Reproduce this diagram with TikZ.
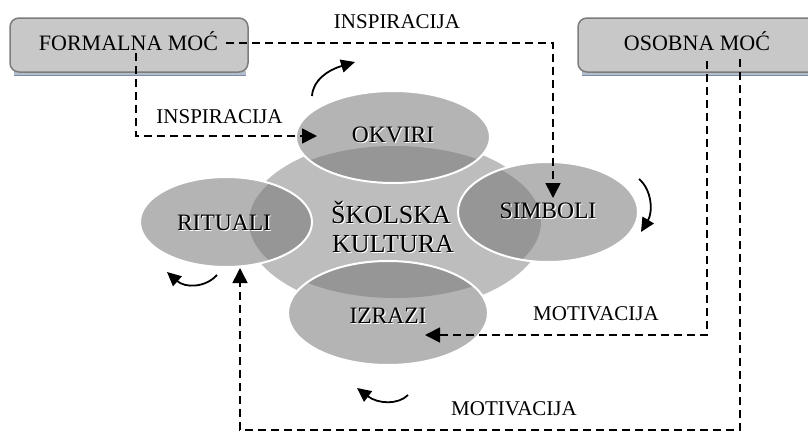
\documentclass[tikz,border=0pt]{standalone}
\usepackage{fontspec}
\setmainfont{Liberation Serif}
\usetikzlibrary{arrows.meta}
\definecolor{lightg}{HTML}{B4B4B4}
\definecolor{centg}{HTML}{BDBDBD}
\definecolor{darkg}{HTML}{969696}
\definecolor{boxg}{HTML}{C8C8C8}
\definecolor{boxline}{HTML}{7C7C7C}
\definecolor{stripc}{HTML}{B3BDCC}
\definecolor{stripline}{HTML}{7A8CA8}
\newcommand\emblabel[4]{%
  \node[#2, text=white, xshift=1.2pt, yshift=-1.2pt] (#1s) at #3 {#4};
  \node[#2] (#1) at #3 {#4};}
\begin{document}
\begin{tikzpicture}[x=1pt,y=-1pt,
  dsh/.style={line width=1.7pt, dash pattern=on 8pt off 5pt},
  tipd/.style={-{Triangle[length=15pt,width=15pt]}},
  curv/.style={line width=1.8pt,-{Triangle[length=14pt,width=13pt]}},
  plainlab/.style={font=\fontsize{21}{24}\selectfont, inner sep=0pt, anchor=base},
  boxlab/.style={font=\fontsize{22}{25}\selectfont, inner sep=0pt, anchor=base},
  outlab/.style={font=\fontsize{23.5}{26}\selectfont, inner sep=0pt, anchor=base},
  cenlab/.style={font=\fontsize{26}{29}\selectfont, inner sep=0pt, anchor=base},
  powerbox/.style={draw=boxline, fill=boxg, line width=1.5pt, rounded corners=9pt,
    minimum height=54pt, inner sep=0pt},
  ring/.style={draw=white, line width=2pt},
]
\useasboundingbox (0,0) rectangle (808,434);
\clip (0,0) rectangle (808,434);
\fill[white] (0,0) rectangle (808,434);

% central shape
\fill[centg] (395,225) ellipse [x radius=150pt, y radius=86pt];

% outer ellipses with darker overlap
\foreach \cx/\cy/\rx/\ry in {393/137/97/46, 548/212/90/50, 226/222/86/45, 388/313/100/52}{
  \fill[lightg] (\cx,\cy) ellipse [x radius=\rx pt, y radius=\ry pt];
  \begin{scope}
    \clip (\cx,\cy) ellipse [x radius=\rx pt, y radius=\ry pt];
    \fill[darkg] (395,222) ellipse [x radius=146pt, y radius=76pt];
  \end{scope}
  \draw[ring] (\cx,\cy) ellipse [x radius=\rx pt, y radius=\ry pt];
}

% labels in the diagram
\emblabel{okv}{outlab}{(393,142)}{OKVIRI}
\emblabel{sim}{outlab}{(548,218)}{SIMBOLI}
\emblabel{rit}{outlab}{(224,230)}{RITUALI}
\emblabel{izr}{outlab}{(388,323)}{IZRAZI}
\emblabel{sk}{cenlab}{(391,223)}{ŠKOLSKA}
\emblabel{ku}{cenlab}{(393,252)}{KULTURA}

% power boxes
\fill[stripc] (14,71) rectangle (246,76);
\draw[stripline, line width=0.6pt] (14,75.5) -- (246,75.5);
\node[powerbox, minimum width=238pt] (fm) at (129,45) {};
\node[boxlab] (fmt) at (128.5,50) {FORMALNA MOĆ};

\fill[stripc] (582,71) rectangle (830,76);
\draw[stripline, line width=0.6pt] (582,75.5) -- (830,75.5);
\node[powerbox, minimum width=250pt] (om) at (703,45) {};
\node[boxlab] (omt) at (697,50) {OSOBNA MOĆ};

% connector labels
\node[plainlab] (insp1) at (397,28) {INSPIRACIJA};
\node[plainlab] (insp2) at (219.5,123) {INSPIRACIJA};
\node[plainlab] (mot1) at (596,320) {MOTIVACIJA};
\node[plainlab] (mot2) at (514,415) {MOTIVACIJA};

% dashed connectors
\coordinate (a0) at (226,43);
\coordinate (a1) at (553,43);
\coordinate (a2) at (553,198);
\draw[dsh,tipd] (a0) -- (a1) -- (a2);

\coordinate (b0) at (136,53);
\coordinate (b2) at (317,136);
\draw[dsh,tipd] (b0) |- (b2);

\coordinate (c0) at (707,61);
\coordinate (c2) at (425,335);
\draw[dsh,tipd] (c0) |- (c2);

\coordinate (d0) at (740,59);
\coordinate (d1) at (740,430);
\coordinate (d3) at (240,268);
\draw[dsh,tipd] (d0) -- (d1) -| (d3);

% curved cycle arrows
\coordinate (e1s) at (312,96);  \coordinate (e1t) at (355,62);
\coordinate (e2s) at (639,179); \coordinate (e2t) at (641,232);
\coordinate (e3s) at (217,275); \coordinate (e3t) at (167,272);
\coordinate (e4s) at (408,395); \coordinate (e4t) at (357,388);
\draw[curv] (e1s) .. controls (313,80) and (328,70) .. (e1t);
\draw[curv] (e2s) .. controls (652,190) and (653,212) .. (e2t);
\draw[curv] (e3s) .. controls (205,288) and (185,288) .. (e3t);
\draw[curv] (e4s) .. controls (398,405) and (378,404) .. (e4t);
\end{tikzpicture}
\end{document}
